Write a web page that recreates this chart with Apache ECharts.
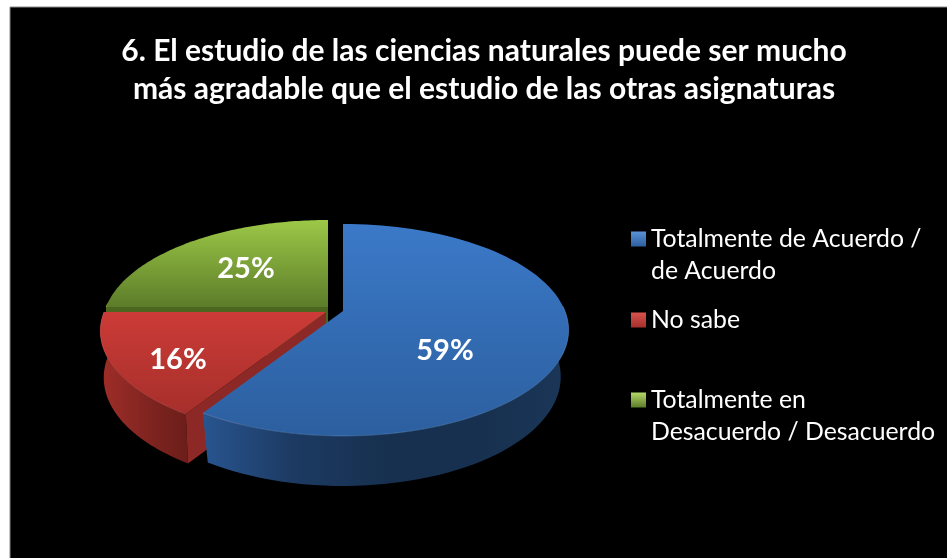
<!DOCTYPE html>
<html><head><meta charset="utf-8">
<style>html,body{margin:0;padding:0;background:#fff}#c{width:947px;height:558px}</style>
<script src="https://cdn.jsdelivr.net/npm/echarts@6/dist/echarts.min.js"></script>
</head><body><div id="c"></div>
<script>
var titleLines = ['6. El estudio de las ciencias naturales puede ser mucho','más agradable que el estudio de las otras asignaturas'];
var categories = ['Totalmente de Acuerdo /\nde Acuerdo','No sabe','Totalmente en\nDesacuerdo / Desacuerdo'];
var values = [59,16,25];

// Appearance of each slice
var faceColors = [['#3b79c8','#2c5f9f'],['#cc3b37','#a62f2b'],['#9cc847','#5c7c29']];
var wallColors = [['#28558f','#1c3a62','#17304f','#17304f','#1b3658'],['#a02d28','#8c2824','#7a221e','#6c1e1a'],['#6d8f30','#44591c']];
var cutColors = ['#1d3f6a','#8c2825','#4d661f'];
var rimColors = ['#6fa3e0','#e8736c','#b4d868'];
var iconColors = [['#5a93d8','#2c5f9f'],['#d9534e','#a62f2b'],['#b4d868','#5c7c29']];
var explode = [[343,311],[326,312],[328,307]];   // slice apex on the picture
var labelAt = [[445,351],[178,360],[246,269]];
var shrink = [0.965,0.985,0.985];
var R = 222, A = 102.6, K = 0.179, DEPTH = 50;

function project(i, frac, down) {
  var ap = explode[i], th = frac * 2 * Math.PI, u = Math.sin(th), v = -Math.cos(th);
  var d = 1 - K * v, s = down ? shrink[i] : 1;
  return [ap[0] + R * u / d * s, ap[1] + A * v / d + (down ? DEPTH * (0.92 + 0.08 * v) : 0)];
}
function grad(x0,y0,x1,y1,stops){
  return new echarts.graphic.LinearGradient(x0,y0,x1,y1,stops.map(function(c,i){return {offset:i/(stops.length-1),color:c};}));
}
var total = values.reduce(function(a,b){return a+b;},0);
function startOf(i){var s=0;for(var k=0;k<i;k++)s+=values[k];return s/total;}

function sliceItem(i){
  return function(params, api){
    var val = api.value(0), a0 = startOf(i), a1 = a0 + val/total, ap = explode[i];
    var top = [ap], rim = [], N = 90;
    for (var n=0;n<=N;n++){ var f=a0+(a1-a0)*n/N, q=project(i,f,false); top.push(q); rim.push({f:f,q:q}); }
    var front = rim.filter(function(o){return Math.cos(o.f*2*Math.PI)<0.05;});
    var children = [];
    if (front.length){
      var wall = front.map(function(o){return o.q;});
      for (var m=front.length-1;m>=0;m--) wall.push(project(i,front[m].f,true));
      children.push({type:'polygon',shape:{points:wall},style:{fill:grad(0,0,1,0,wallColors[i])}});
    }
    if (i>0){
      var e = project(i,a0,false), eD = project(i,a0,true), apD = [ap[0],ap[1]+DEPTH];
      children.push({type:'polygon',shape:{points:[ap,e,eD,apD]},style:{fill:cutColors[i]}});
    }
    children.push({type:'polygon',shape:{points:top},style:{fill:grad(0,0,0,1,faceColors[i])}});
    if (front.length){
      children.push({type:'polyline',shape:{points:front.map(function(o){return o.q;})},style:{stroke:rimColors[i],lineWidth:1,fill:null,opacity:0.35}});
    }
    children.push({type:'text',x:labelAt[i][0],y:labelAt[i][1],z2:50,style:{text:val+'%',fill:'#fff',font:'bold 29px Lato',align:'center',verticalAlign:'middle'}});
    return {type:'group',children:children};
  };
}

var order = [2,1,0];
var series = order.map(function(i,k){
  return {type:'custom',name:categories[i],coordinateSystem:'none',z:10+k,
    data:[[values[i]]],renderItem:sliceItem(i),silent:true,animation:false,
    itemStyle:{color:faceColors[i][0]}};
});
var legendTops = [191,304,352];
var legends = categories.map(function(name,i){
  var two = name.indexOf('\n')>=0;
  return {data:[{name:name,icon:'rect',itemStyle:{color:grad(0,0,0,1,iconColors[i]),borderWidth:0}}],
    left:631,top:legendTops[i],orient:'vertical',selectedMode:false,itemWidth:15,itemHeight:15,itemGap:0,padding:0,
    formatter:function(n){return two?'\n'+n:n;},
    textStyle:{color:'#fff',fontFamily:'Lato',fontSize:24.8,lineHeight:32}};
});

var chart = echarts.init(document.getElementById('c'),null,{renderer:'canvas'});
chart.setOption({
  animation:false,
  backgroundColor:'#ffffff',
  title:{text:titleLines.join('\n'),left:479,top:27,textAlign:'center',
    textStyle:{color:'#fff',fontFamily:'Lato',fontWeight:'bold',fontSize:30,lineHeight:38}},
  legend:legends,
  graphic:[{type:'rect',z:-1,silent:true,shape:{x:10,y:7,width:960,height:580},style:{fill:'#000',stroke:'#8a8a8a',lineWidth:1}}],
  series:series
});
</script></body></html>
